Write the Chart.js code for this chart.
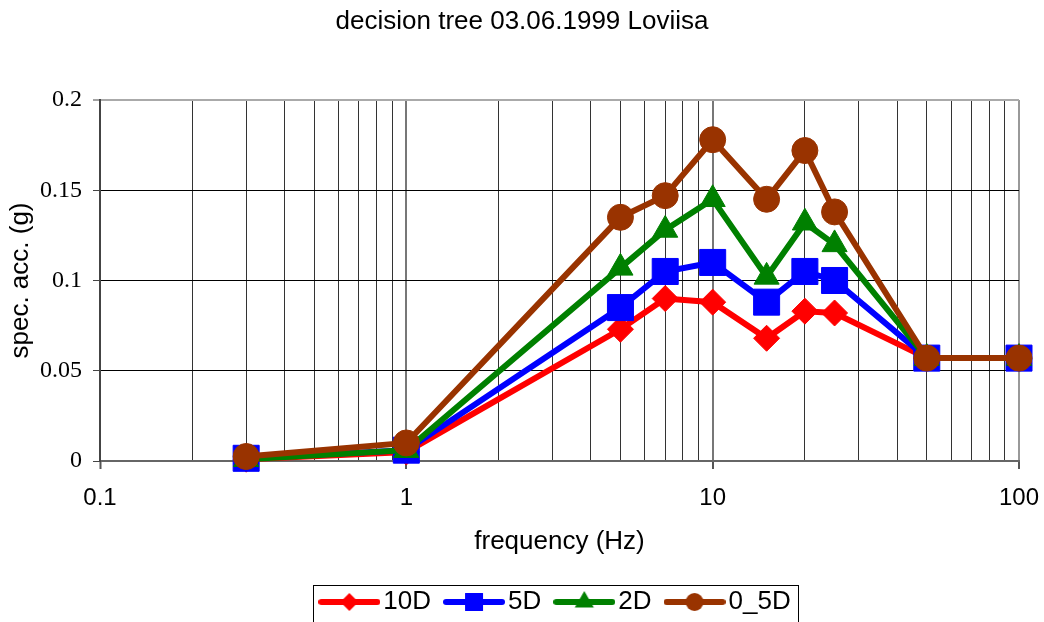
<!DOCTYPE html>
<html>
<head>
<meta charset="utf-8">
<script src="https://cdn.jsdelivr.net/npm/chart.js@4/dist/chart.umd.min.js"></script>
<style>
  html, body { margin: 0; padding: 0; background: #fff; }
  #wrap { width: 1044px; height: 622px; }
</style>
</head>
<body>
<div id="wrap"><canvas id="c" width="1044" height="622"></canvas></div>
<script>
// ---- data ----
const frequencies = [0.3, 1, 5, 7, 10, 15, 20, 25, 50, 100];
const seriesNames = ['10D', '5D', '2D', '0_5D'];
const values10D = [0.001, 0.005, 0.073, 0.090, 0.088, 0.068, 0.083, 0.082, 0.057, 0.057];
const values5D  = [0.0015, 0.006, 0.085, 0.105, 0.110, 0.088, 0.105, 0.100, 0.057, 0.057];
const values2D  = [0.001, 0.006, 0.107, 0.128, 0.145, 0.102, 0.132, 0.120, 0.057, 0.057];
const values05D = [0.0025, 0.010, 0.135, 0.147, 0.178, 0.145, 0.172, 0.138, 0.057, 0.057];
const xTickValues = [0.1,0.2,0.3,0.4,0.5,0.6,0.7,0.8,0.9,1,2,3,4,5,6,7,8,9,10,20,30,40,50,60,70,80,90,100];
const xTickLabels = {0.1: '0.1', 1: '1', 10: '10', 100: '100'};
const yTickValues = [0, 0.05, 0.1, 0.15, 0.2];
const yTickLabels = ['0', '0.05', '0.1', '0.15', '0.2'];

// ---- styles ----
const colors = ['#ff0000', '#0000ff', '#008000', '#993300'];
const pointStyles = ['rectRot', 'rect', 'triangle', 'circle'];
const pointRadii = [13, 18.4, 14.5, 13];
const legendRadii = [9, 12.7, 11, 9];
const allValues = [values10D, values5D, values2D, values05D];

function toPoints(vals) { return frequencies.map((f, i) => ({x: f, y: vals[i]})); }

function legendImage(idx) {
  const cv = document.createElement('canvas');
  cv.width = 62; cv.height = 28;
  const g = cv.getContext('2d');
  const col = colors[idx];
  g.strokeStyle = col; g.fillStyle = col;
  g.lineWidth = 6; g.lineCap = 'round';
  g.beginPath(); g.moveTo(3, 14); g.lineTo(59, 14); g.stroke();
  const cx = 31, cy = 14, r = legendRadii[idx];
  g.beginPath();
  const st = pointStyles[idx];
  if (st === 'rectRot') {
    g.moveTo(cx - r, cy); g.lineTo(cx, cy - r); g.lineTo(cx + r, cy); g.lineTo(cx, cy + r); g.closePath();
  } else if (st === 'rect') {
    const s = r * Math.SQRT1_2; g.rect(cx - s, cy - s, 2 * s, 2 * s);
  } else if (st === 'triangle') {
    for (let k = 0; k < 3; k++) {
      const a = k * 2 * Math.PI / 3;
      const px = cx + Math.sin(a) * r, py = cy - Math.cos(a) * r;
      if (k === 0) g.moveTo(px, py); else g.lineTo(px, py);
    }
    g.closePath();
  } else {
    g.arc(cx, cy, r, 0, Math.PI * 2);
  }
  g.fill();
  return cv;
}
const legendImages = seriesNames.map((n, i) => legendImage(i));

const datasets = seriesNames.map((name, i) => ({
  label: name,
  data: toPoints(allValues[i]),
  borderColor: colors[i],
  backgroundColor: colors[i],
  borderWidth: 6,
  pointStyle: pointStyles[i],
  pointRadius: pointRadii[i],
  pointBackgroundColor: colors[i],
  pointBorderColor: colors[i],
  pointBorderWidth: 1,
  tension: 0,
  clip: false,
  order: seriesNames.length - i
}));

const legendBoxPlugin = {
  id: 'legendBox',
  afterDraw(chart) {
    const lg = chart.legend;
    if (!lg || !lg.legendHitBoxes || !lg.legendHitBoxes.length) return;
    const hb = lg.legendHitBoxes;
    const first = hb[0], last = hb[hb.length - 1];
    const cy = first.top + first.height / 2;
    const ctx = chart.ctx;
    ctx.save();
    ctx.strokeStyle = '#000';
    ctx.lineWidth = 1;
    const left = Math.round(first.left - 15) + 0.5;
    const right = Math.round(last.left + last.width + 7) + 0.5;
    const top = Math.round(cy - 17) + 0.5;
    ctx.strokeRect(left, top, right - left, 80);
    ctx.restore();
  }
};

new Chart(document.getElementById('c'), {
  type: 'line',
  data: { datasets },
  plugins: [legendBoxPlugin],
  options: {
    responsive: false,
    animation: false,
    events: [],
    layout: { padding: { left: 0, right: 0, top: 0, bottom: -3 } },
    plugins: {
      tooltip: { enabled: false },
      title: {
        display: true,
        text: 'decision tree 03.06.1999 Loviisa',
        color: '#000',
        font: { family: 'Liberation Sans, Arial, sans-serif', size: 26, weight: 'normal' },
        padding: { top: 6.4, bottom: 62.4 }
      },
      legend: {
        display: true,
        position: 'bottom',
        fullSize: false,
        labels: {
          usePointStyle: true,
          pointStyleWidth: 42,
          padding: 22,
          color: '#000',
          font: { family: 'Liberation Sans, Arial, sans-serif', size: 26 },
          generateLabels(chart) {
            return seriesNames.map((n, i) => ({
              text: n,
              pointStyle: legendImages[i],
              fillStyle: colors[i],
              strokeStyle: colors[i],
              lineWidth: 0,
              hidden: false,
              datasetIndex: i,
              fontColor: '#000'
            }));
          }
        }
      }
    },
    scales: {
      x: {
        type: 'logarithmic',
        min: 0.1,
        max: 100,
        afterBuildTicks(scale) { scale.ticks = xTickValues.map(v => ({ value: v, major: !!xTickLabels[v] })); },
        afterFit(scale) { scale.height = 106; scale.paddingLeft = 0; scale.paddingRight = 25; },
        ticks: {
          autoSkip: false,
          maxRotation: 0,
          minRotation: 0,
          padding: 15,
          color: '#000',
          font: { family: 'Liberation Sans, Arial, sans-serif', size: 24 },
          callback(value) { return xTickLabels[value] !== undefined ? xTickLabels[value] : ''; }
        },
        grid: {
          drawTicks: true,
          tickLength: 8,
          color(ctx) {
            const v = ctx.tick && ctx.tick.value;
            if (v === 100) return '#999';
            if (v === 1 || v === 10) return '#777';
            return '#333';
          },
          lineWidth(ctx) {
            const v = ctx.tick && ctx.tick.value;
            if (v === 100 || v === 1 || v === 10) return 2;
            return 1;
          },
          tickColor(ctx) {
            const v = ctx.tick && ctx.tick.value;
            return xTickLabels[v] !== undefined ? '#555' : 'rgba(0,0,0,0)';
          },
          tickWidth: 2
        },
        border: { display: true, color: '#666', width: 2 },
        title: {
          display: true,
          text: 'frequency (Hz)',
          color: '#000',
          font: { family: 'Liberation Sans, Arial, sans-serif', size: 26 },
          padding: { top: 0, bottom: 9.4 }
        }
      },
      y: {
        type: 'linear',
        min: 0,
        max: 0.2,
        afterBuildTicks(scale) { scale.ticks = yTickValues.map(v => ({ value: v })); },
        afterFit(scale) { scale.width = 100; },
        ticks: {
          padding: 11,
          color: '#000',
          font: { family: 'Liberation Serif, Times New Roman, serif', size: 24 },
          callback(value) {
            const k = yTickValues.findIndex(v => Math.abs(v - value) < 1e-9);
            return k >= 0 ? yTickLabels[k] : '';
          }
        },
        grid: {
          drawTicks: true,
          tickLength: 7,
          color(ctx) {
            const v = ctx.tick && ctx.tick.value;
            if (v !== undefined && Math.abs(v - 0.2) < 1e-9) return '#aaa';
            return '#000';
          },
          lineWidth(ctx) {
            const v = ctx.tick && ctx.tick.value;
            if (v !== undefined && Math.abs(v - 0.2) < 1e-9) return 2;
            return 1;
          },
          tickColor: '#444',
          tickWidth: 1
        },
        border: { display: true, color: '#444', width: 2 },
        title: {
          display: true,
          text: 'spec. acc. (g)',
          color: '#000',
          font: { family: 'Liberation Sans, Arial, sans-serif', size: 26 },
          padding: { top: 5.4, bottom: 0 }
        }
      }
    }
  }
});
</script>
</body>
</html>
